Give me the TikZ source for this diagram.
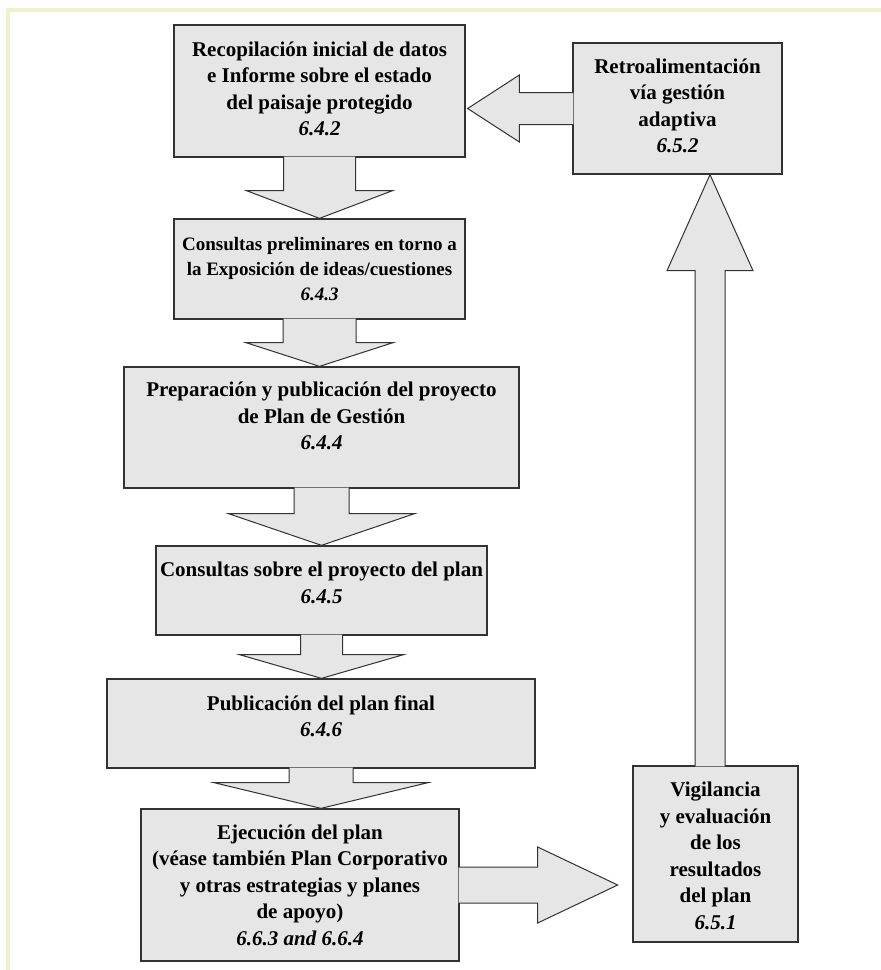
\documentclass[tikz,border=0pt]{standalone}
\usepackage{fontspec}
\setmainfont{Liberation Serif}
\usetikzlibrary{calc}
\definecolor{boxfill}{RGB}{230,230,230}
\definecolor{boxline}{RGB}{50,50,50}
\definecolor{frameyellow}{RGB}{243,240,204}
\tikzset{
  box/.style={draw=boxline, fill=boxfill, line width=1.3pt, inner sep=0pt},
  boxtext/.style={font=\fontsize{21}{26.5}\selectfont\bfseries, align=center},
  blockarrow/.style={draw=boxline, fill=boxfill, line width=1pt, line join=miter}
}
\begin{document}
\begin{tikzpicture}[x=1pt,y=-1pt]
  \useasboundingbox[fill=white] (0,0) rectangle (881,970);
  \draw[frameyellow, line width=4pt] (8,970) -- (8,10) -- (881,10);

  % boxes
  \node[box, minimum width=291pt, minimum height=132pt] (recop) at (319.5,91) {};
  \node[box, minimum width=291pt, minimum height=100pt] (prelim) at (319.5,269) {};
  \node[box, minimum width=395pt, minimum height=121pt] (prep) at (321.5,427.5) {};
  \node[box, minimum width=331pt, minimum height=89pt] (consul) at (321.5,590.5) {};
  \node[box, minimum width=428pt, minimum height=89pt] (publ) at (321,723.5) {};
  \node[box, minimum width=318pt, minimum height=152pt] (ejec) at (300,885) {};
  \node[box, minimum width=165pt, minimum height=176pt] (vigil) at (715.5,854) {};
  \node[box, minimum width=209pt, minimum height=131pt] (retro) at (677.5,108.5) {};

  % down arrows
  \filldraw[blockarrow] ($(recop.south)+(-36,-1)$) -- ++(0,34) -- ++(-37,0) -- (recop.south |- prelim.north) -- ($(recop.south)+(73,33)$) -- ++(-37,0) -- ++(0,-34);
  \filldraw[blockarrow] ($(prelim.south)+(-36.5,-1)$) -- ++(0,24) -- ++(-37,0) -- (prelim.south |- prep.north) -- ($(prelim.south)+(73.5,23)$) -- ++(-37,0) -- ++(0,-24);
  \filldraw[blockarrow] ($(prep.south)+(-27.5,-1)$) -- ++(0,26) -- ++(-65.5,0) -- (prep.south |- consul.north) -- ($(prep.south)+(93,25)$) -- ++(-65.5,0) -- ++(0,-26);
  \filldraw[blockarrow] ($(consul.south)+(-21,-1)$) -- ++(0,20) -- ++(-61,0) -- (consul.south |- publ.north) -- ($(consul.south)+(82,19)$) -- ++(-61,0) -- ++(0,-20);
  \filldraw[blockarrow] ($(publ.south)+(-32,-1)$) -- ++(0,15) -- ++(-75,0) -- (publ.south |- ejec.north) -- ($(publ.south)+(107,14)$) -- ++(-75,0) -- ++(0,-15);

  % right, up and left arrows
  \filldraw[blockarrow] ($(ejec.east)+(-1,-18)$) -- ++(79,0) -- ++(0,-20) -- ($(ejec.east)+(158,0)$) -- ($(ejec.east)+(78,38)$) -- ++(0,-20) -- ++(-79,0);
  \coordinate (upbase) at ($(vigil.north)+(-5.5,1)$);
  \filldraw[blockarrow] ($(upbase)+(-15,0)$) -- ($(upbase |- retro.south)+(-15,96)$) -- ++(-28,0) -- (upbase |- retro.south) -- ($(upbase |- retro.south)+(43,96)$) -- ++(-28,0) -- ($(upbase)+(15,0)$);
  \filldraw[blockarrow] ($(retro.west)+(1,-16)$) -- ++(-54,0) -- ++(0,-17.5) -- ($(recop.east |- retro.west)+(2,0)$) -- ($(retro.west)+(-53,33.5)$) -- ++(0,-17.5) -- ++(54,0);

  % texts
  \node[boxtext] (recopT) at ($(recop)+(0,-2)$) {Recopilación inicial de datos\\e Informe sobre el estado\\del paisaje protegido\\\textit{6.4.2}};
  \node[boxtext, font=\fontsize{19}{25}\selectfont\bfseries] (prelimT) at (prelim) {Consultas preliminares en torno a\\la Exposición de ideas/cuestiones\\\textit{6.4.3}};
  \node[boxtext] (prepT) at ($(prep)+(0,-11.5)$) {Preparación y publicación del proyecto\\de Plan de Gestión\\\textit{6.4.4}};
  \node[boxtext] (consulT) at ($(consul)+(0,-7.5)$) {Consultas sobre el proyecto del plan\\\textit{6.4.5}};
  \node[boxtext] (publT) at ($(publ)+(0,-7.5)$) {Publicación del plan final\\\textit{6.4.6}};
  \node[boxtext] (ejecT) at (ejec) {Ejecución del plan\\(véase también Plan Corporativo\\y otras estrategias y planes\\de apoyo)\\\textit{6.6.3 and 6.6.4}};
  \node[boxtext] (vigilT) at ($(vigil)+(0,2)$) {Vigilancia\\y evaluación\\de los\\resultados\\del plan\\\textit{6.5.1}};
  \node[boxtext] (retroT) at ($(retro)+(0,-2.5)$) {Retroalimentación\\vía gestión\\adaptiva\\\textit{6.5.2}};
\end{tikzpicture}
\end{document}
